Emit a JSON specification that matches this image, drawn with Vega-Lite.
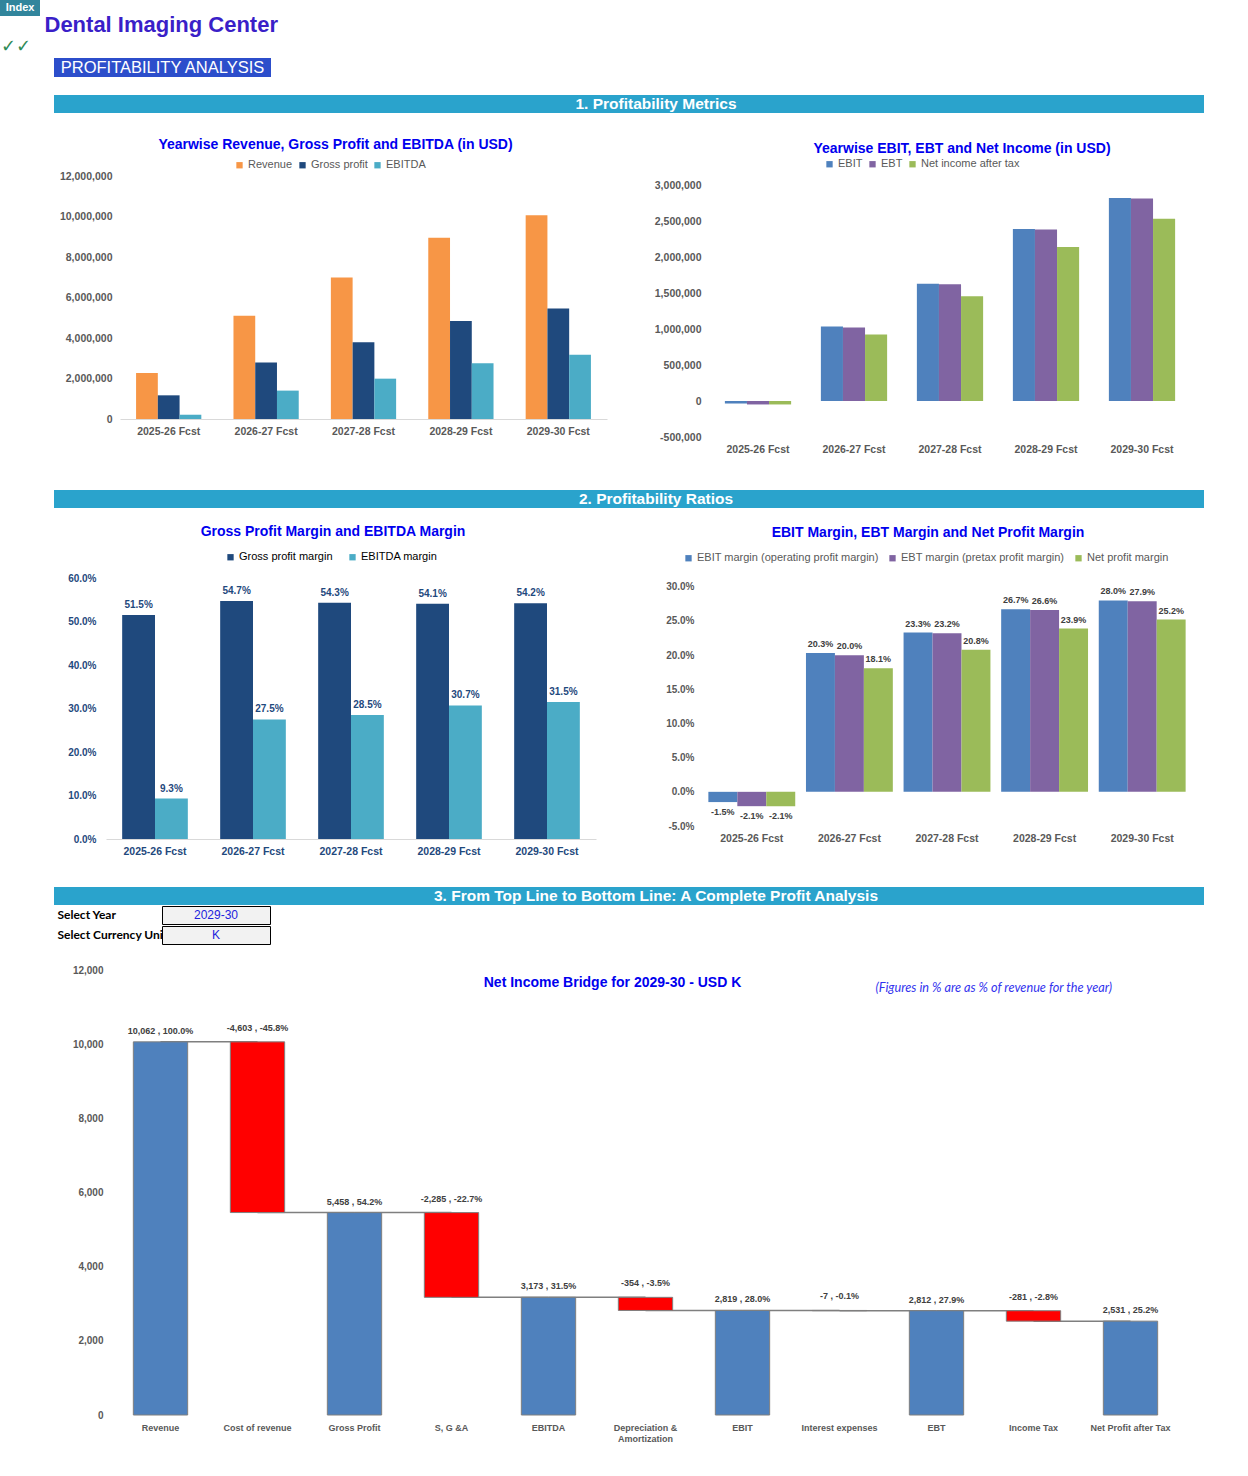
{
  "$schema": "https://vega.github.io/schema/vega-lite/v6.json",
  "background": "white",
  "padding": 0,
  "spacing": 0,
  "resolve": {"scale": {"x": "independent", "y": "independent", "color": "independent", "xOffset": "independent"}, "legend": {"color": "independent"}, "axis": {"x": "independent", "y": "independent"}},
  "config": {
    "view": {"stroke": null},
    "font": "Liberation Sans",
    "locale": {"number": {"decimal": ".", "thousands": ",", "grouping": [3], "currency": ["$", ""], "minus": "-"}},
    "axis": {"grid": false, "ticks": false}
  },
  "datasets": {
    "c1": [
      {"year": "2025-26 Fcst", "series": "Revenue", "value": 2270000},
      {"year": "2025-26 Fcst", "series": "Gross profit", "value": 1169000},
      {"year": "2025-26 Fcst", "series": "EBITDA", "value": 211000},
      {"year": "2026-27 Fcst", "series": "Revenue", "value": 5100000},
      {"year": "2026-27 Fcst", "series": "Gross profit", "value": 2790000},
      {"year": "2026-27 Fcst", "series": "EBITDA", "value": 1402000},
      {"year": "2027-28 Fcst", "series": "Revenue", "value": 6990000},
      {"year": "2027-28 Fcst", "series": "Gross profit", "value": 3795000},
      {"year": "2027-28 Fcst", "series": "EBITDA", "value": 1992000},
      {"year": "2028-29 Fcst", "series": "Revenue", "value": 8950000},
      {"year": "2028-29 Fcst", "series": "Gross profit", "value": 4842000},
      {"year": "2028-29 Fcst", "series": "EBITDA", "value": 2748000},
      {"year": "2029-30 Fcst", "series": "Revenue", "value": 10062000},
      {"year": "2029-30 Fcst", "series": "Gross profit", "value": 5458000},
      {"year": "2029-30 Fcst", "series": "EBITDA", "value": 3173000}
    ],
    "c2": [
      {"year": "2025-26 Fcst", "series": "EBIT", "value": -35000},
      {"year": "2025-26 Fcst", "series": "EBT", "value": -48000},
      {"year": "2025-26 Fcst", "series": "Net income after tax", "value": -48000},
      {"year": "2026-27 Fcst", "series": "EBIT", "value": 1035000},
      {"year": "2026-27 Fcst", "series": "EBT", "value": 1020000},
      {"year": "2026-27 Fcst", "series": "Net income after tax", "value": 923000},
      {"year": "2027-28 Fcst", "series": "EBIT", "value": 1629000},
      {"year": "2027-28 Fcst", "series": "EBT", "value": 1622000},
      {"year": "2027-28 Fcst", "series": "Net income after tax", "value": 1454000},
      {"year": "2028-29 Fcst", "series": "EBIT", "value": 2390000},
      {"year": "2028-29 Fcst", "series": "EBT", "value": 2381000},
      {"year": "2028-29 Fcst", "series": "Net income after tax", "value": 2139000},
      {"year": "2029-30 Fcst", "series": "EBIT", "value": 2819000},
      {"year": "2029-30 Fcst", "series": "EBT", "value": 2812000},
      {"year": "2029-30 Fcst", "series": "Net income after tax", "value": 2531000}
    ],
    "c3": [
      {"year": "2025-26 Fcst", "series": "Gross profit margin", "value": 0.515},
      {"year": "2025-26 Fcst", "series": "EBITDA margin", "value": 0.093},
      {"year": "2026-27 Fcst", "series": "Gross profit margin", "value": 0.547},
      {"year": "2026-27 Fcst", "series": "EBITDA margin", "value": 0.275},
      {"year": "2027-28 Fcst", "series": "Gross profit margin", "value": 0.543},
      {"year": "2027-28 Fcst", "series": "EBITDA margin", "value": 0.285},
      {"year": "2028-29 Fcst", "series": "Gross profit margin", "value": 0.541},
      {"year": "2028-29 Fcst", "series": "EBITDA margin", "value": 0.307},
      {"year": "2029-30 Fcst", "series": "Gross profit margin", "value": 0.542},
      {"year": "2029-30 Fcst", "series": "EBITDA margin", "value": 0.315}
    ],
    "c4": [
      {"year": "2025-26 Fcst", "series": "EBIT margin (operating profit margin)", "value": -0.015},
      {"year": "2025-26 Fcst", "series": "EBT margin (pretax profit margin)", "value": -0.021},
      {"year": "2025-26 Fcst", "series": "Net profit margin", "value": -0.021},
      {"year": "2026-27 Fcst", "series": "EBIT margin (operating profit margin)", "value": 0.203},
      {"year": "2026-27 Fcst", "series": "EBT margin (pretax profit margin)", "value": 0.200},
      {"year": "2026-27 Fcst", "series": "Net profit margin", "value": 0.181},
      {"year": "2027-28 Fcst", "series": "EBIT margin (operating profit margin)", "value": 0.233},
      {"year": "2027-28 Fcst", "series": "EBT margin (pretax profit margin)", "value": 0.232},
      {"year": "2027-28 Fcst", "series": "Net profit margin", "value": 0.208},
      {"year": "2028-29 Fcst", "series": "EBIT margin (operating profit margin)", "value": 0.267},
      {"year": "2028-29 Fcst", "series": "EBT margin (pretax profit margin)", "value": 0.266},
      {"year": "2028-29 Fcst", "series": "Net profit margin", "value": 0.239},
      {"year": "2029-30 Fcst", "series": "EBIT margin (operating profit margin)", "value": 0.280},
      {"year": "2029-30 Fcst", "series": "EBT margin (pretax profit margin)", "value": 0.279},
      {"year": "2029-30 Fcst", "series": "Net profit margin", "value": 0.252}
    ],
    "bridge": [
      {"item": "Revenue", "next": "Cost of revenue", "kind": "total", "start": 0, "end": 10062, "label": "10,062 , 100.0%"},
      {"item": "Cost of revenue", "next": "Gross Profit", "kind": "decrease", "start": 10062, "end": 5459, "label": "-4,603 , -45.8%"},
      {"item": "Gross Profit", "next": "S, G &A", "kind": "total", "start": 0, "end": 5458, "label": "5,458 , 54.2%"},
      {"item": "S, G &A", "next": "EBITDA", "kind": "decrease", "start": 5458, "end": 3173, "label": "-2,285 , -22.7%"},
      {"item": "EBITDA", "next": "Depreciation & Amortization", "kind": "total", "start": 0, "end": 3173, "label": "3,173 , 31.5%"},
      {"item": "Depreciation & Amortization", "next": "EBIT", "kind": "decrease", "start": 3173, "end": 2819, "label": "-354 , -3.5%"},
      {"item": "EBIT", "next": "Interest expenses", "kind": "total", "start": 0, "end": 2819, "label": "2,819 , 28.0%"},
      {"item": "Interest expenses", "next": "EBT", "kind": "decrease", "start": 2819, "end": 2812, "label": "-7 , -0.1%"},
      {"item": "EBT", "next": "Income Tax", "kind": "total", "start": 0, "end": 2812, "label": "2,812 , 27.9%"},
      {"item": "Income Tax", "next": "Net Profit after Tax", "kind": "decrease", "start": 2812, "end": 2531, "label": "-281 , -2.8%"},
      {"item": "Net Profit after Tax", "next": null, "kind": "total", "start": 0, "end": 2531, "label": "2,531 , 25.2%"}
    ]
  },
  "vconcat": [
    {
      "hconcat": [
        {
          "data": {"values": [{"t": "Index"}]},
          "width": 40, "height": 16,
          "view": {"fill": "#31859c", "stroke": null},
          "mark": {"type": "text", "color": "white", "fontWeight": "bold", "fontSize": 11},
          "encoding": {"text": {"field": "t"}}
        },
        {"data": {"values": [{}]}, "mark": {"type": "text", "text": ""}, "width": 4, "height": 16},
        {
          "data": {"values": [{"t": "Dental Imaging Center"}]},
          "width": 1, "height": 34,
          "mark": {"type": "text", "align": "left", "color": "#3a1fc8", "fontWeight": "bold", "fontSize": 22, "dy": 8},
          "encoding": {"text": {"field": "t"}}
        }
      ],
      "spacing": 0, "bounds": "flush"
    },
    {
      "data": {"values": [{"t": "✓✓"}]},
      "width": 32, "height": 22,
      "mark": {"type": "text", "color": "#2e8b57", "fontWeight": "bold", "fontSize": 18, "font": "DejaVu Sans"},
      "encoding": {"text": {"field": "t"}}
    },
    {
      "hconcat": [
        {"data": {"values": [{}]}, "mark": {"type": "text", "text": ""}, "width": 54, "height": 19},
        {
          "data": {"values": [{"t": "PROFITABILITY ANALYSIS"}]},
          "width": 217, "height": 19,
          "view": {"fill": "#2c4ecb", "stroke": null},
          "mark": {"type": "text", "color": "white", "fontSize": 16.5},
          "encoding": {"text": {"field": "t"}}
        }
      ],
      "spacing": 0, "bounds": "flush"
    },
    {"data": {"values": [{}]}, "mark": {"type": "text", "text": ""}, "width": 1, "height": 18},
    {
      "hconcat": [
        {"data": {"values": [{}]}, "mark": {"type": "text", "text": ""}, "width": 54, "height": 18},
        {
          "data": {"values": [{"t": "1. Profitability Metrics"}]},
          "width": 1150, "height": 18,
          "view": {"fill": "#2aa3cc", "stroke": null},
          "mark": {"type": "text", "color": "white", "fontSize": 15.5, "fontWeight": "bold", "dx": 27},
          "encoding": {"text": {"field": "t"}}
        }
      ],
      "spacing": 0, "bounds": "flush"
    },
    {"data": {"values": [{}]}, "mark": {"type": "text", "text": ""}, "width": 1, "height": 24},
    {
      "hconcat": [
        {"data": {"values": [{}]}, "mark": {"type": "text", "text": ""}, "width": 120, "height": 1},
        {
          "width": 487, "height": 243,
          "data": {"name": "c1"},
          "title": {"text": "Yearwise Revenue, Gross Profit and EBITDA (in USD)", "color": "#0000ee", "fontSize": 14, "fontWeight": "bold", "anchor": "middle", "frame": "group", "dx": -28, "offset": 8},
          "mark": {"type": "bar"},
          "encoding": {
            "x": {"field": "year", "type": "nominal", "title": null, "scale": {"paddingInner": 0.33, "paddingOuter": 0.165},
              "axis": {"labelAngle": 0, "ticks": false, "domainColor": "#d9d9d9", "labelColor": "#595959", "labelFontWeight": "bold", "labelFontSize": 10.5, "labelPadding": 7}},
            "xOffset": {"field": "series", "type": "nominal", "sort": ["Revenue", "Gross profit", "EBITDA"]},
            "y": {"field": "value", "type": "quantitative", "title": null, "scale": {"domain": [0, 12000000], "nice": false},
              "axis": {"values": [0, 2000000, 4000000, 6000000, 8000000, 10000000, 12000000], "format": ",d", "grid": false, "domain": false, "ticks": false, "labelColor": "#595959", "labelFontWeight": "bold", "labelFontSize": 10.5, "labelPadding": 8}},
            "color": {"field": "series", "type": "nominal", "scale": {"domain": ["Revenue", "Gross profit", "EBITDA"], "range": ["#f79646", "#1f497d", "#4bacc6"]},
              "legend": {"title": null, "orient": "none", "legendX": 114, "legendY": -16.5, "direction": "horizontal", "symbolType": "square", "symbolSize": 40, "symbolStrokeWidth": 0, "labelFontSize": 11, "labelColor": "#595959", "labelOffset": 3, "columnPadding": 4}}
          }
        },
        {"data": {"values": [{}]}, "mark": {"type": "text", "text": ""}, "width": 103, "height": 1},
        {
          "width": 480, "height": 261,
          "data": {"name": "c2"},
          "title": {"text": "Yearwise EBIT, EBT and Net Income (in USD)", "color": "#0000ee", "fontSize": 14, "fontWeight": "bold", "anchor": "middle", "frame": "group", "dx": 12, "offset": 3},
          "encoding": {
            "x": {"field": "year", "type": "nominal", "title": null, "scale": {"paddingInner": 0.31, "paddingOuter": 0.155},
              "axis": {"labelAngle": 0, "ticks": false, "domain": false, "labelColor": "#595959", "labelFontWeight": "bold", "labelFontSize": 10.5, "labelPadding": 7}},
            "y": {"field": "value", "type": "quantitative", "title": null, "scale": {"domain": [-500000, 3125000], "nice": false},
              "axis": {"values": [-500000, 0, 500000, 1000000, 1500000, 2000000, 2500000, 3000000], "format": ",d", "grid": false, "domain": false, "ticks": false, "labelColor": "#595959", "labelFontWeight": "bold", "labelFontSize": 10.5, "labelPadding": 9}}
          },
          "layer": [
            {"mark": {"type": "rule", "color": "#d9d9d9", "strokeWidth": 1}, "encoding": {"y": {"datum": 0}}},
            {
              "mark": {"type": "bar"},
              "encoding": {
                "xOffset": {"field": "series", "type": "nominal", "sort": ["EBIT", "EBT", "Net income after tax"]},
                "color": {"field": "series", "type": "nominal", "scale": {"domain": ["EBIT", "EBT", "Net income after tax"], "range": ["#4f81bd", "#8064a2", "#9bbb59"]},
                  "legend": {"title": null, "orient": "none", "legendX": 114, "legendY": -17.5, "direction": "horizontal", "symbolType": "square", "symbolSize": 40, "symbolStrokeWidth": 0, "labelFontSize": 11, "labelColor": "#595959", "labelOffset": 3, "columnPadding": 4}}
              }
            }
          ]
        }
      ],
      "spacing": 0, "bounds": "flush",
      "resolve": {"scale": {"x": "independent", "y": "independent", "color": "independent", "xOffset": "independent"}, "legend": {"color": "independent"}, "axis": {"x": "independent", "y": "independent"}}
    },
    {"data": {"values": [{}]}, "mark": {"type": "text", "text": ""}, "width": 1, "height": 35},
    {
      "hconcat": [
        {"data": {"values": [{}]}, "mark": {"type": "text", "text": ""}, "width": 54, "height": 18},
        {
          "data": {"values": [{"t": "2. Profitability Ratios"}]},
          "width": 1150, "height": 18,
          "view": {"fill": "#2aa3cc", "stroke": null},
          "mark": {"type": "text", "color": "white", "fontSize": 15.5, "fontWeight": "bold", "dx": 27},
          "encoding": {"text": {"field": "t"}}
        }
      ],
      "spacing": 0, "bounds": "flush"
    },
    {"data": {"values": [{}]}, "mark": {"type": "text", "text": ""}, "width": 1, "height": 16},
    {
      "hconcat": [
        {"data": {"values": [{}]}, "mark": {"type": "text", "text": ""}, "width": 106, "height": 1},
        {
          "width": 490, "height": 261,
          "data": {"name": "c3"},
          "title": {"text": "Gross Profit Margin and  EBITDA Margin", "color": "#0000ee", "fontSize": 14, "fontWeight": "bold", "anchor": "middle", "frame": "group", "dx": -18, "offset": 13},
          "encoding": {
            "x": {"field": "year", "type": "nominal", "title": null, "scale": {"paddingInner": 0.33, "paddingOuter": 0.165},
              "axis": {"labelAngle": 0, "ticks": false, "domainColor": "#d9d9d9", "labelColor": "#1f497d", "labelFontWeight": "bold", "labelFontSize": 10.5, "labelPadding": 7}},
            "xOffset": {"field": "series", "type": "nominal", "sort": ["Gross profit margin", "EBITDA margin"]},
            "y": {"field": "value", "type": "quantitative", "title": null, "scale": {"domain": [0, 0.6], "nice": false},
              "axis": {"values": [0, 0.1, 0.2, 0.3, 0.4, 0.5, 0.6], "format": ".1%", "grid": false, "domain": false, "ticks": false, "labelColor": "#1f497d", "labelFontWeight": "bold", "labelFontSize": 10, "labelPadding": 10}}
          },
          "layer": [
            {
              "mark": {"type": "bar"},
              "encoding": {
                "color": {"field": "series", "type": "nominal", "scale": {"domain": ["Gross profit margin", "EBITDA margin"], "range": ["#1f497d", "#4bacc6"]},
                  "legend": {"title": null, "orient": "none", "legendX": 119, "legendY": -26.5, "direction": "horizontal", "symbolType": "square", "symbolSize": 40, "symbolStrokeWidth": 0, "labelFontSize": 11, "labelColor": "#000000", "labelOffset": 3, "columnPadding": 14}}
              }
            },
            {
              "mark": {"type": "text", "baseline": "bottom", "dy": -5, "fontSize": 10, "fontWeight": "bold", "color": "#1f497d"},
              "encoding": {"text": {"field": "value", "type": "quantitative", "format": ".1%"}}
            }
          ]
        },
        {"data": {"values": [{}]}, "mark": {"type": "text", "text": ""}, "width": 107, "height": 1},
        {
          "width": 488, "height": 248,
          "data": {"name": "c4"},
          "title": {"text": "EBIT Margin, EBT Margin and Net Profit Margin", "color": "#0000ee", "fontSize": 14, "fontWeight": "bold", "anchor": "middle", "frame": "group", "dx": -19, "offset": 13},
          "encoding": {
            "x": {"field": "year", "type": "nominal", "title": null, "scale": {"paddingInner": 0.11, "paddingOuter": 0.055},
              "axis": {"labelAngle": 0, "ticks": false, "domain": false, "labelColor": "#595959", "labelFontWeight": "bold", "labelFontSize": 10.5, "labelPadding": 7}},
            "y": {"field": "value", "type": "quantitative", "title": null, "scale": {"domain": [-0.05, 0.3129], "nice": false},
              "axis": {"values": [-0.05, 0, 0.05, 0.1, 0.15, 0.2, 0.25, 0.3], "format": ".1%", "grid": false, "domain": false, "ticks": false, "labelColor": "#595959", "labelFontWeight": "bold", "labelFontSize": 10, "labelPadding": 9}}
          },
          "layer": [
            {"mark": {"type": "rule", "color": "#d9d9d9", "strokeWidth": 1}, "encoding": {"y": {"datum": 0}}},
            {
              "mark": {"type": "bar"},
              "encoding": {
                "xOffset": {"field": "series", "type": "nominal", "sort": ["EBIT margin (operating profit margin)", "EBT margin (pretax profit margin)", "Net profit margin"]},
                "color": {"field": "series", "type": "nominal", "scale": {"domain": ["EBIT margin (operating profit margin)", "EBT margin (pretax profit margin)", "Net profit margin"], "range": ["#4f81bd", "#8064a2", "#9bbb59"]},
                  "legend": {"title": null, "orient": "none", "legendX": -20, "legendY": -25.5, "direction": "horizontal", "symbolType": "square", "symbolSize": 40, "symbolStrokeWidth": 0, "labelFontSize": 11, "labelColor": "#595959", "labelOffset": 3, "columnPadding": 8, "labelLimit": 300}}
              }
            },
            {
              "transform": [{"filter": "datum.value >= 0"}],
              "mark": {"type": "text", "baseline": "bottom", "dy": -4, "fontSize": 9, "fontWeight": "bold", "color": "#404040"},
              "encoding": {
                "xOffset": {"field": "series", "type": "nominal", "sort": ["EBIT margin (operating profit margin)", "EBT margin (pretax profit margin)", "Net profit margin"]},
                "text": {"field": "value", "type": "quantitative", "format": ".1%"}}
            },
            {
              "transform": [{"filter": "datum.value < 0"}],
              "mark": {"type": "text", "baseline": "top", "dy": 6, "fontSize": 9, "fontWeight": "bold", "color": "#404040"},
              "encoding": {
                "xOffset": {"field": "series", "type": "nominal", "sort": ["EBIT margin (operating profit margin)", "EBT margin (pretax profit margin)", "Net profit margin"]},
                "text": {"field": "value", "type": "quantitative", "format": ".1%"}}
            }
          ]
        }
      ],
      "spacing": 0, "bounds": "flush",
      "resolve": {"scale": {"x": "independent", "y": "independent", "color": "independent", "xOffset": "independent"}, "legend": {"color": "independent"}, "axis": {"x": "independent", "y": "independent"}}
    },
    {"data": {"values": [{}]}, "mark": {"type": "text", "text": ""}, "width": 1, "height": 30},
    {
      "hconcat": [
        {"data": {"values": [{}]}, "mark": {"type": "text", "text": ""}, "width": 54, "height": 18},
        {
          "data": {"values": [{"t": "3. From Top Line to Bottom Line: A Complete Profit Analysis"}]},
          "width": 1150, "height": 18,
          "view": {"fill": "#2aa3cc", "stroke": null},
          "mark": {"type": "text", "color": "white", "fontSize": 15.5, "fontWeight": "bold", "dx": 27},
          "encoding": {"text": {"field": "t"}}
        }
      ],
      "spacing": 0, "bounds": "flush"
    },
    {
      "hconcat": [
        {"data": {"values": [{}]}, "mark": {"type": "text", "text": ""}, "width": 57, "height": 18},
        {"data": {"values": [{"t": "Select Year"}]}, "width": 1, "height": 18,
          "mark": {"type": "text", "align": "left", "font": "Lato", "fontWeight": "bold", "fontSize": 12, "color": "#000000"},
          "encoding": {"text": {"field": "t"}}},
        {"data": {"values": [{}]}, "mark": {"type": "text", "text": ""}, "width": 104, "height": 18},
        {"data": {"values": [{"t": "2029-30"}]}, "width": 108, "height": 18,
          "view": {"fill": "#f2f2f2", "stroke": "#000000", "strokeWidth": 1},
          "mark": {"type": "text", "fontSize": 12, "color": "#2222dd"},
          "encoding": {"text": {"field": "t"}}}
      ],
      "spacing": 0, "bounds": "flush"
    },
    {
      "hconcat": [
        {"data": {"values": [{}]}, "mark": {"type": "text", "text": ""}, "width": 57, "height": 18},
        {"data": {"values": [{"t": "Select Currency Unit"}]}, "width": 1, "height": 18,
          "mark": {"type": "text", "align": "left", "font": "Lato", "fontWeight": "bold", "fontSize": 12, "color": "#000000"},
          "encoding": {"text": {"field": "t"}}},
        {"data": {"values": [{}]}, "mark": {"type": "text", "text": ""}, "width": 104, "height": 18},
        {"data": {"values": [{"t": "K"}]}, "width": 108, "height": 18,
          "view": {"fill": "#f2f2f2", "stroke": "#000000", "strokeWidth": 1},
          "mark": {"type": "text", "fontSize": 12, "color": "#2222dd"},
          "encoding": {"text": {"field": "t"}}}
      ],
      "spacing": 0, "bounds": "flush"
    },
    {"data": {"values": [{}]}, "mark": {"type": "text", "text": ""}, "width": 1, "height": 19},
    {
      "hconcat": [
        {"data": {"values": [{}]}, "mark": {"type": "text", "text": ""}, "width": 112, "height": 1},
        {
          "width": 1067, "height": 445,
          "data": {"name": "bridge"},
          "title": {"text": "Net Income Bridge for 2029-30 - USD K", "color": "#0000ee", "fontSize": 14, "fontWeight": "bold", "anchor": "middle", "frame": "group", "dx": -33, "offset": -25},
          "encoding": {
            "x": {"field": "item", "type": "nominal", "sort": null, "title": null,
              "scale": {"domain": ["Revenue", "Cost of revenue", "Gross Profit", "S, G &A", "EBITDA", "Depreciation & Amortization", "EBIT", "Interest expenses", "EBT", "Income Tax", "Net Profit after Tax"], "paddingInner": 0.44, "paddingOuter": 0.22},
              "axis": {"labelAngle": 0, "ticks": false, "domain": false, "labelColor": "#595959", "labelFontWeight": "bold", "labelFontSize": 9, "labelPadding": 8, "labelOverlap": false, "labelLimit": 200,
                "labelExpr": "datum.value == 'Depreciation & Amortization' ? ['Depreciation &', 'Amortization'] : datum.label"}}
          },
          "layer": [
            {
              "transform": [{"filter": "datum.next != null"}],
              "mark": {"type": "rule", "color": "#7f7f7f", "strokeWidth": 1.5},
              "encoding": {
                "x2": {"field": "next"},
                "y": {"field": "end", "type": "quantitative", "title": null}
              }
            },
            {
              "mark": {"type": "bar", "stroke": "#7f7f7f", "strokeWidth": 1},
              "encoding": {
                "y": {"field": "start", "type": "quantitative", "title": null, "scale": {"domain": [0, 12000], "nice": false},
                  "axis": {"values": [0, 2000, 4000, 6000, 8000, 10000, 12000], "format": ",d", "grid": false, "domain": false, "ticks": false, "labelColor": "#595959", "labelFontWeight": "bold", "labelFontSize": 10, "labelPadding": 9}},
                "y2": {"field": "end"},
                "color": {"field": "kind", "type": "nominal", "scale": {"domain": ["total", "decrease"], "range": ["#4f81bd", "#ff0000"]}, "legend": null}
              }
            },
            {
              "transform": [{"filter": "datum.kind == 'total'"}],
              "mark": {"type": "text", "baseline": "bottom", "dy": -6, "fontSize": 9, "fontWeight": "bold", "color": "#404040"},
              "encoding": {"y": {"field": "end", "type": "quantitative", "title": null}, "text": {"field": "label"}}
            },
            {
              "transform": [{"filter": "datum.kind == 'decrease'"}],
              "mark": {"type": "text", "baseline": "bottom", "dy": -9, "fontSize": 9, "fontWeight": "bold", "color": "#404040"},
              "encoding": {"y": {"field": "start", "type": "quantitative", "title": null}, "text": {"field": "label"}}
            },
            {
              "data": {"values": [{"note": "(Figures in % are as % of revenue for the year)"}]},
              "mark": {"type": "text", "font": "Lato", "fontStyle": "italic", "fontSize": 12.7, "color": "#3333ee", "align": "left", "dx": -61},
              "encoding": {"x": {"datum": "EBT"}, "y": {"datum": 11520}, "text": {"field": "note"}}
            }
          ]
        }
      ],
      "spacing": 0, "bounds": "flush"
    }
  ]
}
